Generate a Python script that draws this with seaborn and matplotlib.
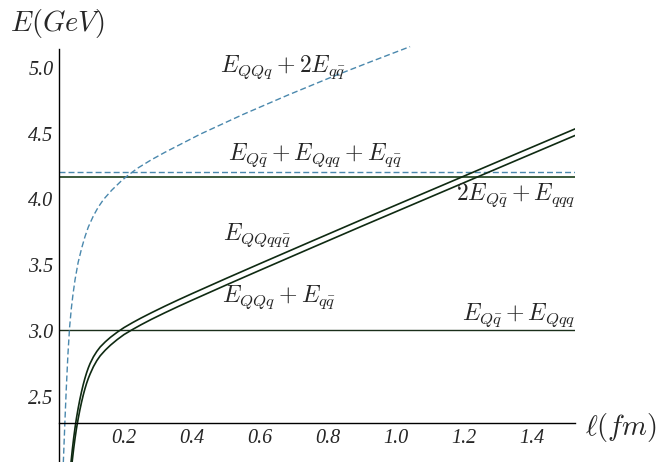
import numpy as np
import pandas as pd
import matplotlib
matplotlib.use("Agg")
import matplotlib.pyplot as plt
from matplotlib.ticker import MultipleLocator, FixedLocator, FormatStrFormatter
import seaborn as sns

# ---- data ----
ell_tetra = [0.044, 0.048, 0.052, 0.056, 0.060, 0.065, 0.070, 0.075, 0.080, 0.085,
             0.090, 0.095, 0.100, 0.110, 0.120, 0.130, 0.145, 0.160, 0.180, 0.200,
             0.225, 0.250, 0.280, 0.320, 0.360, 0.400, 0.500, 0.600, 0.750, 0.900,
             1.050, 1.200, 1.360, 1.526]
E_tetra = [2.000, 2.100, 2.188, 2.266, 2.336, 2.411, 2.4785, 2.5385, 2.5925, 2.6405,
           2.683, 2.720, 2.752, 2.804, 2.845, 2.879, 2.918, 2.952, 2.991, 3.026,
           3.0635, 3.0985, 3.138, 3.1885, 3.237, 3.284, 3.399, 3.512, 3.680, 3.847,
           4.012, 4.177, 4.353, 4.535]

ell_bary_meson = [0.044, 0.048, 0.052, 0.056, 0.060, 0.065, 0.070, 0.075, 0.080, 0.085,
                  0.090, 0.095, 0.100, 0.110, 0.120, 0.130, 0.145, 0.160, 0.180, 0.200,
                  0.225, 0.250, 0.280, 0.320, 0.360, 0.400, 0.500, 0.600, 0.750, 0.900,
                  1.050, 1.200, 1.360, 1.526]
E_bary_meson = [1.920, 2.020, 2.108, 2.186, 2.256, 2.331, 2.3985, 2.4585, 2.5125, 2.5605,
                2.603, 2.640, 2.672, 2.729, 2.775, 2.812, 2.855, 2.892, 2.935, 2.973,
                3.0115, 3.0475, 3.088, 3.1385, 3.187, 3.234, 3.349, 3.462, 3.630, 3.797,
                3.962, 4.127, 4.303, 4.485]

ell_bary_2meson = [0.0215, 0.026, 0.030, 0.035, 0.040, 0.045, 0.050, 0.056, 0.065, 0.0755,
                   0.085, 0.095, 0.110, 0.124, 0.140, 0.164, 0.190, 0.208, 0.240, 0.280,
                   0.320, 0.424, 0.550, 0.680, 0.816, 0.930, 1.041]
E_bary_2meson = [2.000, 2.300, 2.550, 2.820, 3.030, 3.170, 3.280, 3.390, 3.520, 3.630,
                 3.715, 3.790, 3.875, 3.940, 4.000, 4.070, 4.135, 4.175, 4.237, 4.300,
                 4.357, 4.495, 4.645, 4.790, 4.935, 5.050, 5.160]

E_thr_Qq_Qqq = 3.01        # E_{Q qbar} + E_{Qqq}
E_thr_2Qq_qqq = 4.166      # 2E_{Q qbar} + E_{qqq}
E_thr_Qq_Qqq_qq = 4.207    # E_{Q qbar} + E_{Qqq} + E_{q qbar}

y_ticks = [2.5, 3.0, 3.5, 4.0, 4.5, 5.0]
x_ticks = [0.2, 0.4, 0.6, 0.8, 1.0, 1.2, 1.4]

# ---- style ----
sns.set_style("white")
plt.rcParams["mathtext.fontset"] = "cm"
plt.rcParams["font.family"] = ["Liberation Serif", "DejaVu Serif"]

fig = plt.figure(figsize=(6.59, 4.62), dpi=100)
W, H = 659, 462
ax = fig.add_axes([59 / W, 0, (575 - 59) / W, (462 - 44) / H])

green = "#0f2a12"
blue = "#4a88ad"

df_t = pd.DataFrame({"l": ell_tetra, "E": E_tetra})
df_b = pd.DataFrame({"l": ell_bary_meson, "E": E_bary_meson})
df_d = pd.DataFrame({"l": ell_bary_2meson, "E": E_bary_2meson})

ax.axhline(E_thr_Qq_Qqq, color="#1a2e1a", lw=1.0, zorder=2)
ax.axhline(E_thr_2Qq_qqq, color="#3b5a3b", lw=1.4, zorder=2)
ax.axhline(E_thr_Qq_Qqq_qq, color=blue, lw=1.0, dashes=(4.3, 2.2), zorder=2)

sns.lineplot(data=df_t, x="l", y="E", ax=ax, color=green, lw=1.2, estimator=None, sort=False)
sns.lineplot(data=df_b, x="l", y="E", ax=ax, color=green, lw=1.2, estimator=None, sort=False)
sns.lineplot(data=df_d, x="l", y="E", ax=ax, color=blue, lw=1.0, estimator=None, sort=False)
ax.lines[-1].set_dashes((4.3, 2.2))

ax.set_xlim(0.0088, 1.526)
ax.set_ylim(2.005, 5.18)
ax.set_xlabel("")
ax.set_ylabel("")

for s in ["top", "right"]:
    ax.spines[s].set_visible(False)
ax.spines["bottom"].set_position(("data", 2.3))
ax.spines["left"].set_bounds(2.005, 5.144)
for s in ["left", "bottom"]:
    ax.spines[s].set_color("black")
    ax.spines[s].set_linewidth(1.0)

ax.xaxis.set_major_locator(FixedLocator(x_ticks))
ax.yaxis.set_major_locator(FixedLocator(y_ticks))
ax.xaxis.set_minor_locator(MultipleLocator(0.05))
ax.yaxis.set_minor_locator(MultipleLocator(0.1))
ax.xaxis.set_major_formatter(FormatStrFormatter("%.1f"))
ax.yaxis.set_major_formatter(FormatStrFormatter("%.1f"))
ax.tick_params(which="major", direction="in", length=3.5, width=0.7, color="#444444",
               labelsize=14.5, pad=4.0)
ax.tick_params(which="minor", direction="in", length=2.0, width=0.6, color="#666666")
for lab in ax.get_xticklabels() + ax.get_yticklabels():
    lab.set_fontstyle("italic")
ax.grid(False)

fs = 17
ax.text(0.482, 4.971, r"$E_{QQq}+2E_{q\bar{q}}$", fontsize=fs, ha="left", va="baseline")
ax.text(0.506, 4.30, r"$E_{Q\bar{q}}+E_{Qqq}+E_{q\bar{q}}$", fontsize=fs, ha="left", va="baseline")
ax.text(1.526, 3.996, r"$2E_{Q\bar{q}}+E_{qqq}$", fontsize=fs, ha="right", va="baseline")
ax.text(0.491, 3.69, r"$E_{QQqq\bar{q}}$", fontsize=fs, ha="left", va="baseline")
ax.text(0.488, 3.223, r"$E_{QQq}+E_{q\bar{q}}$", fontsize=fs, ha="left", va="baseline")
ax.text(1.526, 3.084, r"$E_{Q\bar{q}}+E_{Qqq}$", fontsize=fs, ha="right", va="baseline")

fig.text(10 / W, 1 - 23 / H, r"$E(GeV)$", fontsize=20.5, ha="left", va="center")
fig.text(585 / W, 1 - 428 / H, r"$\ell(fm)$", fontsize=20.5, ha="left", va="center")

fig.savefig("out.png", dpi=100)
